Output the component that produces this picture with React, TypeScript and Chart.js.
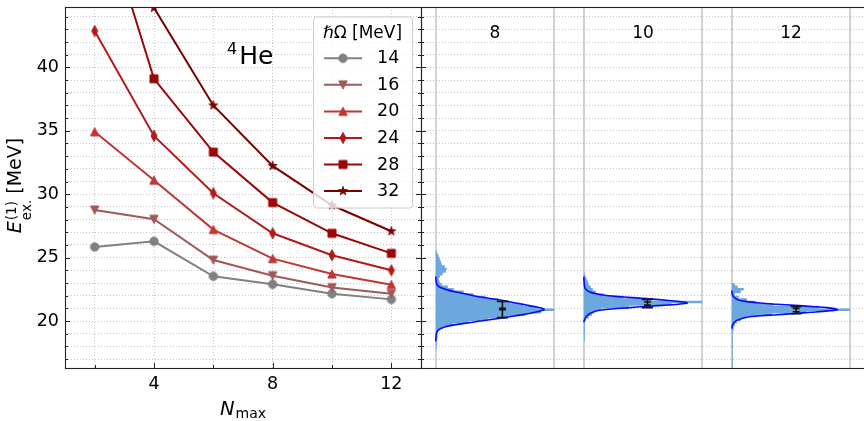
import React, { useEffect, useRef } from 'react';
import { Chart, registerables } from 'chart.js';

Chart.register(...registerables);

const FONT = "'DejaVu Sans', 'Liberation Sans', sans-serif";

// ---------- left panel: excitation energy vs. model space ----------
const NMAX = [2, 4, 6, 8, 10, 12];
const HBAR_OMEGA = [14, 16, 20, 24, 28, 32];
const E_HW14 = [25.84, 26.29, 23.53, 22.9, 22.16, 21.71];
const E_HW16 = [28.76, 28.03, 24.81, 23.58, 22.64, 22.16];
const E_HW20 = [34.92, 31.1, 27.21, 24.92, 23.71, 22.87];
const E_HW24 = [42.87, 34.6, 30.08, 26.92, 25.19, 24.0];
const E_HW28 = [54.2, 39.1, 33.32, 29.34, 26.92, 25.34];
const E_HW32 = [62.0, 44.7, 37.0, 32.23, 29.13, 27.08];
const SERIES = [E_HW14, E_HW16, E_HW20, E_HW24, E_HW28, E_HW32];
const SERIES_COLORS = [
  'rgb(128,128,128)',
  'rgb(160,88,88)',
  'rgb(192,54,54)',
  'rgb(178,26,26)',
  'rgb(155,6,6)',
  'rgb(122,0,0)',
];
const SERIES_MARKERS = ['circle', 'triangleDown', 'triangleUp', 'thinDiamond', 'square', 'star'];
const X_LABELED = [4, 8, 12];
const Y_LABELED = [20, 25, 30, 35, 40];
const X_RANGE = [1, 13];
const Y_RANGE = [16.3, 44.76];

// ---------- right panel: extrapolated distributions ----------
const PANEL_NMAX = [8, 10, 12];
const PANEL_X_RANGE = [7, 13];
const PANEL_HALF_WIDTH = 0.8;
const BIN_WIDTH = 0.2;
const HIST_START = [17.8, 18.4, 16.2];
const HIST_N8 = [
  1, 1, 1, 1, 1.5, 2, 2, 3, 7, 17, 33, 52, 72, 90, 106, 119, 102, 88, 75, 63,
  50, 38, 28, 18, 12, 6, 4, 3, 4, 7, 10, 11, 9, 6, 5, 4, 3, 2, 1,
];
const HIST_N10 = [
  1, 1, 1, 1, 1, 1, 1, 1, 2, 5, 8, 10, 17, 45, 88, 119, 68, 40, 20, 12, 9, 7, 5,
  4, 3, 2, 1,
];
const HIST_N12 = [
  1, 1, 1, 1, 1, 1, 1, 1, 1, 1, 1, 1, 1, 1, 1, 1.5, 2, 3, 5, 9, 15, 40, 75, 119,
  88, 42, 24, 15, 7, 3, 9, 12, 6, 3,
];
const HISTS = [HIST_N8, HIST_N10, HIST_N12];
const FIT_N8 = [
  [18.4, 0], [18.9, 0.3], [19.2, 1.5], [19.4, 4.5], [19.6, 12], [19.8, 27],
  [20.0, 45], [20.2, 63], [20.4, 79], [20.6, 94], [20.8, 105], [20.92, 109],
  [21.05, 105], [21.2, 95], [21.4, 82], [21.6, 69], [21.8, 53], [22.0, 38],
  [22.2, 26], [22.4, 14], [22.6, 6], [22.8, 2], [23.0, 0.6], [23.5, 0],
];
const FIT_N10 = [
  [19.9, 0], [20.1, 0.7], [20.3, 2], [20.5, 4.5], [20.7, 9], [20.85, 16],
  [20.95, 28], [21.06, 46], [21.15, 62], [21.24, 79], [21.33, 95], [21.42, 104],
  [21.5, 100], [21.6, 88], [21.77, 63], [21.87, 45], [21.97, 29], [22.1, 16],
  [22.29, 6], [22.56, 1.5], [22.9, 0.5], [23.5, 0],
];
const FIT_N12 = [
  [19.4, 0], [19.66, 0.6], [19.85, 2], [20.0, 4], [20.15, 8], [20.32, 16],
  [20.42, 30], [20.5, 46], [20.6, 63], [20.69, 79], [20.8, 97], [20.9, 106],
  [20.98, 103], [21.06, 96], [21.15, 80], [21.24, 63], [21.33, 45], [21.42, 29],
  [21.55, 14], [21.69, 6], [21.9, 2], [22.1, 0.6], [22.4, 0],
];
const FITS = [FIT_N8, FIT_N10, FIT_N12];
const ERR_X = [8.1, 10.06, 12.07];
const ERR_OUTER_LO = [20.27, 21.06, 20.58];
const ERR_OUTER_HI = [21.55, 21.71, 21.16];
const ERR_INNER_LO = [20.9, 21.26, 20.74];
const ERR_INNER_HI = [21.0, 21.5, 21.0];

const GRID_COLOR = 'rgba(150,150,150,0.55)';
const PANEL_LINE_COLOR = 'rgb(210,210,210)';
const SPINE_COLOR = '#222';
const HIST_COLOR = 'rgb(108,167,221)';
const FIT_COLOR = 'rgb(10,10,245)';

function makeMarker(kind: string, color: string): HTMLCanvasElement {
  const s = 16;
  const c = document.createElement('canvas');
  c.width = s;
  c.height = s;
  const g = c.getContext('2d') as CanvasRenderingContext2D;
  g.translate(s / 2, s / 2);
  g.fillStyle = color;
  g.strokeStyle = color;
  g.lineWidth = 1;
  g.beginPath();
  if (kind === 'circle') {
    g.arc(0, 0, 4.2, 0, Math.PI * 2);
  } else if (kind === 'triangleDown') {
    g.moveTo(-4.2, -4.0);
    g.lineTo(4.2, -4.0);
    g.lineTo(0, 4.2);
    g.closePath();
  } else if (kind === 'triangleUp') {
    g.moveTo(-4.2, 4.0);
    g.lineTo(4.2, 4.0);
    g.lineTo(0, -4.2);
    g.closePath();
  } else if (kind === 'thinDiamond') {
    g.moveTo(0, -5.6);
    g.lineTo(3.0, 0);
    g.lineTo(0, 5.6);
    g.lineTo(-3.0, 0);
    g.closePath();
  } else if (kind === 'square') {
    g.rect(-4.0, -4.0, 8.0, 8.0);
  } else {
    const R = 4.6;
    const r = R * 0.382;
    for (let k = 0; k < 10; k++) {
      const a = -Math.PI / 2 + (k * Math.PI) / 5;
      const rad = k % 2 === 0 ? R : r;
      const px = rad * Math.cos(a);
      const py = rad * Math.sin(a);
      if (k === 0) g.moveTo(px, py);
      else g.lineTo(px, py);
    }
    g.closePath();
  }
  g.fill();
  g.stroke();
  return c;
}

function drawYTicks(ctx: CanvasRenderingContext2D, chart: any, sides: string[]) {
  const { left, right } = chart.chartArea;
  const ys = chart.scales.y;
  ctx.save();
  ctx.strokeStyle = SPINE_COLOR;
  ctx.lineWidth = 1;
  ctx.beginPath();
  for (const t of ys.ticks) {
    const y = Math.round(ys.getPixelForValue(t.value)) + 0.5;
    const len = Y_LABELED.includes(t.value) || t.value % 5 === 0 ? 5 : 3;
    if (sides.includes('left')) {
      ctx.moveTo(left, y);
      ctx.lineTo(left + len, y);
    }
    if (sides.includes('right')) {
      ctx.moveTo(right, y);
      ctx.lineTo(right - len, y);
    }
  }
  ctx.stroke();
  ctx.restore();
}

function drawFrame(ctx: CanvasRenderingContext2D, chart: any) {
  const { left, right, top, bottom } = chart.chartArea;
  ctx.save();
  ctx.strokeStyle = SPINE_COLOR;
  ctx.lineWidth = 1.1;
  ctx.strokeRect(left + 0.5, top + 0.5, right - left, bottom - top);
  ctx.restore();
}

const leftDecor = {
  id: 'leftDecor',
  afterDatasetsDraw(chart: any) {
    const ctx: CanvasRenderingContext2D = chart.ctx;
    const { right, top } = chart.chartArea;
    // legend
    const bx = right - 108;
    const by = top + 9.5;
    const bw = 99;
    const bh = 191;
    ctx.save();
    ctx.beginPath();
    ctx.roundRect(bx + 0.5, by + 0.5, bw, bh, 3);
    ctx.fillStyle = 'rgba(255,255,255,0.8)';
    ctx.fill();
    ctx.strokeStyle = '#cccccc';
    ctx.lineWidth = 1;
    ctx.stroke();

    ctx.fillStyle = '#000';
    ctx.textBaseline = 'alphabetic';
    ctx.font = `italic 17px ${FONT}`;
    const wH = ctx.measureText('ℏ').width;
    ctx.font = `17px ${FONT}`;
    const wRest = ctx.measureText('Ω [MeV]').width;
    let tx = bx + bw / 2 - (wH + wRest) / 2;
    ctx.font = `italic 17px ${FONT}`;
    ctx.fillText('ℏ', tx, top + 31);
    tx += wH;
    ctx.font = `17px ${FONT}`;
    ctx.fillText('Ω [MeV]', tx, top + 31);

    chart.data.datasets.forEach((ds: any, i: number) => {
      const y = top + 51.3 + i * 26.55;
      ctx.strokeStyle = ds.borderColor;
      ctx.lineWidth = 2;
      ctx.beginPath();
      ctx.moveTo(bx + 11, y);
      ctx.lineTo(bx + 49, y);
      ctx.stroke();
      const img = ds.pointStyle as HTMLCanvasElement;
      ctx.drawImage(img, bx + 30 - img.width / 2, y - img.height / 2);
      ctx.fillStyle = '#000';
      ctx.font = `17.5px ${FONT}`;
      ctx.textBaseline = 'middle';
      ctx.fillText(ds.label, bx + 64, y + 0.5);
    });
    ctx.restore();
  },
  afterDraw(chart: any) {
    const ctx: CanvasRenderingContext2D = chart.ctx;
    const { left, right, top, bottom } = chart.chartArea;
    drawFrame(ctx, chart);
    drawYTicks(ctx, chart, ['left', 'right']);
    const xs = chart.scales.x;
    ctx.save();
    ctx.strokeStyle = SPINE_COLOR;
    ctx.lineWidth = 1;
    ctx.beginPath();
    for (const t of xs.ticks) {
      const x = Math.round(xs.getPixelForValue(t.value)) + 0.5;
      const len = X_LABELED.includes(t.value) ? 5 : 3;
      ctx.moveTo(x, bottom);
      ctx.lineTo(x, bottom - len);
    }
    ctx.stroke();

    ctx.fillStyle = '#000';
    ctx.textBaseline = 'alphabetic';
    // y axis title: E_ex.^(1) [MeV]
    ctx.save();
    ctx.translate(20.5, (top + bottom) / 2 - 2);
    ctx.rotate(-Math.PI / 2);
    const big = `19px ${FONT}`;
    const bigI = `italic 19px ${FONT}`;
    const small = `13.5px ${FONT}`;
    ctx.font = bigI;
    const wE = ctx.measureText('E').width;
    ctx.font = small;
    const wScript = Math.max(ctx.measureText('ex.').width, ctx.measureText('(1)').width);
    ctx.font = big;
    const wUnit = ctx.measureText(' [MeV]').width;
    let x0 = -(wE + 1 + wScript + wUnit) / 2;
    ctx.font = bigI;
    ctx.fillText('E', x0, 0);
    x0 += wE + 1;
    ctx.font = small;
    ctx.fillText('(1)', x0, -4.5);
    ctx.fillText('ex.', x0, 10);
    x0 += wScript;
    ctx.font = big;
    ctx.fillText(' [MeV]', x0, 0);
    ctx.restore();

    // x axis title: N_max
    ctx.font = `italic 19.5px ${FONT}`;
    const wN = ctx.measureText('N').width;
    ctx.font = `14px ${FONT}`;
    const wMax = ctx.measureText('max').width;
    let nx = (left + right) / 2 - (wN + 1 + wMax) / 2;
    ctx.font = `italic 19.5px ${FONT}`;
    ctx.fillText('N', nx, 415);
    nx += wN + 1;
    ctx.font = `14px ${FONT}`;
    ctx.fillText('max', nx, 418);

    // nucleus label
    const ax = left + 0.455 * (right - left);
    ctx.font = `16px ${FONT}`;
    ctx.fillText('4', ax, top + 46.5);
    const w4 = ctx.measureText('4').width;
    ctx.font = `25px ${FONT}`;
    ctx.fillText('He', ax + w4 + 2, top + 56.5);
    ctx.restore();
  },
};

const rightDecor = {
  id: 'rightDecor',
  afterDatasetsDraw(chart: any) {
    const ctx: CanvasRenderingContext2D = chart.ctx;
    const xs = chart.scales.x;
    const ys = chart.scales.y;
    ctx.save();
    ctx.strokeStyle = '#151515';
    ctx.lineWidth = 1.6;
    ERR_X.forEach((ex, i) => {
      const x = xs.getPixelForValue(ex);
      const yLo = ys.getPixelForValue(ERR_OUTER_LO[i]);
      const yHi = ys.getPixelForValue(ERR_OUTER_HI[i]);
      const iLo = ys.getPixelForValue(ERR_INNER_LO[i]);
      const iHi = ys.getPixelForValue(ERR_INNER_HI[i]);
      ctx.beginPath();
      ctx.moveTo(x, yLo);
      ctx.lineTo(x, yHi);
      ctx.moveTo(x - 5.5, yLo);
      ctx.lineTo(x + 5.5, yLo);
      ctx.moveTo(x - 5.5, yHi);
      ctx.lineTo(x + 5.5, yHi);
      ctx.moveTo(x - 3.5, iLo);
      ctx.lineTo(x + 3.5, iLo);
      ctx.moveTo(x - 3.5, iHi);
      ctx.lineTo(x + 3.5, iHi);
      ctx.stroke();
    });
    ctx.restore();
  },
  afterDraw(chart: any) {
    const ctx: CanvasRenderingContext2D = chart.ctx;
    const { top } = chart.chartArea;
    drawFrame(ctx, chart);
    drawYTicks(ctx, chart, ['left']);
    const xs = chart.scales.x;
    ctx.save();
    ctx.fillStyle = '#000';
    ctx.font = `17px ${FONT}`;
    ctx.textAlign = 'center';
    ctx.textBaseline = 'alphabetic';
    PANEL_NMAX.forEach((n) => {
      ctx.fillText(String(n), xs.getPixelForValue(n), top + 30.5);
    });
    ctx.restore();
  },
};

function buildLeft(canvas: HTMLCanvasElement) {
  const markers = SERIES_MARKERS.map((m, i) => makeMarker(m, SERIES_COLORS[i]));
  return new Chart(canvas, {
    type: 'line',
    data: {
      datasets: SERIES.map((vals, i) => ({
        label: String(HBAR_OMEGA[i]),
        data: NMAX.map((n, j) => ({ x: n, y: vals[j] })),
        borderColor: SERIES_COLORS[i],
        backgroundColor: SERIES_COLORS[i],
        borderWidth: 2,
        pointStyle: markers[i],
        pointRadius: 5,
        pointHoverRadius: 5,
        order: SERIES.length - i,
        clip: 0,
        fill: false,
      })),
    },
    options: {
      responsive: false,
      animation: false,
      devicePixelRatio: 1,
      events: [],
      layout: { padding: { left: 0, right: 9, top: 7, bottom: 0 } },
      plugins: { legend: { display: false }, tooltip: { enabled: false } },
      scales: {
        x: {
          type: 'linear',
          min: X_RANGE[0],
          max: X_RANGE[1],
          afterBuildTicks: (s: any) => {
            s.ticks = NMAX.map((v) => ({ value: v }));
          },
          ticks: {
            callback: (v: any) => (X_LABELED.includes(Number(v)) ? String(v) : ''),
            font: { family: FONT, size: 17.5 },
            color: '#000',
            padding: 6,
            maxRotation: 0,
            autoSkip: false,
          },
          grid: { color: GRID_COLOR, lineWidth: 1, drawTicks: false },
          border: { display: false, dash: [1, 2] },
          afterFit: (s: any) => {
            s.height = 53;
            s.paddingLeft = 0;
            s.paddingRight = 0;
          },
        },
        y: {
          type: 'linear',
          min: Y_RANGE[0],
          max: Y_RANGE[1],
          ticks: {
            stepSize: 1,
            includeBounds: false,
            autoSkip: false,
            callback: (v: any) => (Y_LABELED.includes(Number(v)) ? String(v) : ''),
            font: { family: FONT, size: 17.5 },
            color: '#000',
            padding: 6,
          },
          grid: { color: GRID_COLOR, lineWidth: 1, drawTicks: false },
          border: { display: false, dash: [1, 2] },
          afterFit: (s: any) => {
            s.width = 65;
            s.paddingTop = 0;
            s.paddingBottom = 0;
          },
        },
      },
    } as any,
    plugins: [leftDecor],
  });
}

function buildRight(canvas: HTMLCanvasElement) {
  const datasets: any[] = [];
  PANEL_NMAX.forEach((n, p) => {
    const counts = HISTS[p];
    const peak = Math.max(...counts);
    const base = n - PANEL_HALF_WIDTH;
    const k = (2 * PANEL_HALF_WIDTH) / peak;
    const start = HIST_START[p];
    const pts: { x: number; y: number }[] = [{ x: base, y: start }];
    counts.forEach((c, i) => {
      const lo = start + i * BIN_WIDTH;
      pts.push({ x: base + c * k, y: lo }, { x: base + c * k, y: lo + BIN_WIDTH });
    });
    pts.push({ x: base, y: start + counts.length * BIN_WIDTH });
    datasets.push({
      data: pts,
      fill: 'shape',
      backgroundColor: HIST_COLOR,
      borderColor: 'rgba(0,0,0,0)',
      borderWidth: 0,
      pointRadius: 0,
      tension: 0,
      order: 2,
      clip: 0,
    });
    datasets.push({
      data: FITS[p].map(([e, d]) => ({ x: base + d * k, y: e })),
      fill: false,
      borderColor: FIT_COLOR,
      borderWidth: 1.6,
      pointRadius: 0,
      tension: 0.35,
      order: 1,
      clip: 0,
    });
  });
  const panelEdges: number[] = [];
  PANEL_NMAX.forEach((n) => panelEdges.push(n - PANEL_HALF_WIDTH, n + PANEL_HALF_WIDTH));
  return new Chart(canvas, {
    type: 'line',
    data: { datasets },
    options: {
      responsive: false,
      animation: false,
      devicePixelRatio: 1,
      events: [],
      layout: { padding: { left: 6, right: 10, top: 7, bottom: 0 } },
      plugins: { legend: { display: false }, tooltip: { enabled: false } },
      scales: {
        x: {
          type: 'linear',
          min: PANEL_X_RANGE[0],
          max: PANEL_X_RANGE[1],
          afterBuildTicks: (s: any) => {
            s.ticks = panelEdges.map((v) => ({ value: v }));
          },
          ticks: { display: false },
          grid: { color: PANEL_LINE_COLOR, lineWidth: 2, drawTicks: false },
          border: { display: false },
          afterFit: (s: any) => {
            s.height = 53;
            s.paddingLeft = 0;
            s.paddingRight = 0;
          },
        },
        y: {
          type: 'linear',
          min: Y_RANGE[0],
          max: Y_RANGE[1],
          ticks: { display: false, stepSize: 1, includeBounds: false },
          grid: { color: GRID_COLOR, lineWidth: 1, drawTicks: false },
          border: { display: false, dash: [1, 2] },
          afterFit: (s: any) => {
            s.width = 0;
            s.paddingTop = 0;
            s.paddingBottom = 0;
          },
        },
      },
    } as any,
    plugins: [rightDecor],
  });
}

export default function App() {
  const leftRef = useRef<HTMLCanvasElement>(null);
  const rightRef = useRef<HTMLCanvasElement>(null);

  useEffect(() => {
    const left = buildLeft(leftRef.current as HTMLCanvasElement);
    const right = buildRight(rightRef.current as HTMLCanvasElement);
    return () => {
      left.destroy();
      right.destroy();
    };
  }, []);

  return (
    <div
      style={{
        position: 'fixed',
        left: 0,
        top: 0,
        width: 864,
        height: 421,
        overflow: 'hidden',
        background: '#fff',
      }}
    >
      <canvas
        ref={leftRef}
        width={430}
        height={421}
        style={{ position: 'absolute', left: 0, top: 0, width: 430, height: 421 }}
      />
      <canvas
        ref={rightRef}
        width={460}
        height={421}
        style={{ position: 'absolute', left: 415, top: 0, width: 460, height: 421 }}
      />
    </div>
  );
}
